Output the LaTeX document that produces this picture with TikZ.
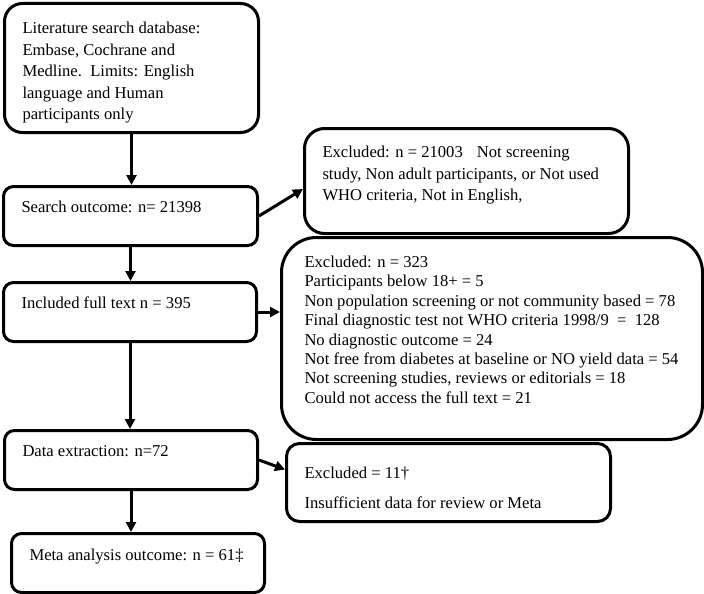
\documentclass[tikz,border=0pt]{standalone}
\usepackage{fontspec}
\setmainfont{Liberation Serif}
\usepackage{tikz}
\usetikzlibrary{arrows.meta}

\begin{document}
\begin{tikzpicture}[x=1pt, y=-1pt,
	every node/.style = {font=\fontsize{16.6}{21.5}\selectfont},
	flowbox/.style n args = {3}{
		draw, line width=3pt, rounded corners=10pt,
		anchor=north west, inner xsep=18pt, inner ysep=0pt,
		execute at begin node={\begin{minipage}[c][#2pt][t]{\dimexpr#1pt-36pt\relax}\raggedright\rule{0pt}{#3pt}},
		execute at end node={\end{minipage}}},
	flow/.style = {line width=3pt, -{Triangle[length=10pt, width=10pt]}}]
	\useasboundingbox (0,0) rectangle (704,594);
	% left column
	\node[flowbox={254}{129}{30}, rounded corners=18pt] (lit) at (3,2)
		{Literature search database:\\Embase, Cochrane and\\Medline.\ \ Limits: English\\language and Human\\participants only};
	\node[flowbox={254}{59}{26}] (search) at (2,185) {Search outcome: n= 21398};
	\node[flowbox={253}{59}{26}] (incl) at (2,281) {Included full text n = 395};
	\node[flowbox={253}{59}{26}] (data) at (3,429) {Data extraction: n=72};
	\node[flowbox={253}{59}{27}] (meta) at (10,532) {Meta analysis outcome: n = 61‡};
	% exclusions
	\node[flowbox={324}{105}{29}, rounded corners=20pt] (excl1) at (303,127)
		{Excluded: n = 21003\hspace{10pt} Not screening\\study, Non adult participants, or Not used\\WHO criteria, Not in English,};
	\node[flowbox={421}{202}{30}, rounded corners=35pt] (excl2) at (280,236)
		{\fontsize{16.6}{19.4}\selectfont\leftskip=5pt
		Excluded: n = 323\\
		Participants below 18+ = 5\\
		Non population screening or not community based = 78\\
		Final diagnostic test not WHO criteria 1998/9\ \ =\ \ 128\\
		No diagnostic outcome = 24\\
		Not free from diabetes at baseline or NO yield data = 54\\
		Not screening studies, reviews or editorials = 18\\
		Could not access the full text = 21\par};
	\node[flowbox={324}{78}{35}, rounded corners=13pt] (excl3) at (285,442)
		{Excluded = 11†\\[8.5pt]Insufficient data for review or Meta};
	% connectors
	\draw[flow] (lit.south) -- (lit.south |- search.north);
	\draw[flow] (search.south) -- (search.south |- incl.north);
	\draw[flow] (incl.south) -- (incl.south |- data.north);
	\draw[flow] (data.south) -- (data.south |- meta.north);
	\draw[flow] (search.east) -- ([yshift=-8pt]excl1.west);
	\draw[flow] (incl.east) -- (incl.east -| excl2.west);
	\draw[flow] (data.east) -- ([yshift=13pt]excl3.west);
\end{tikzpicture}
\end{document}
